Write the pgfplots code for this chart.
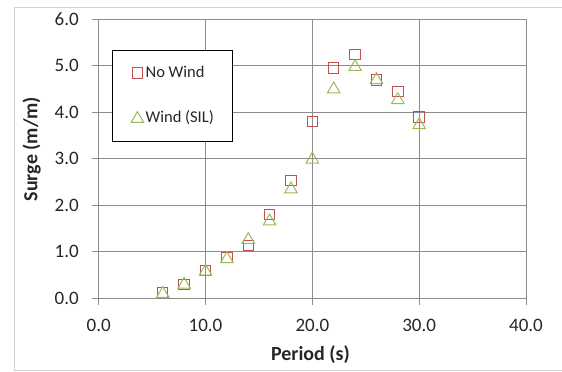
\documentclass[border=0pt]{standalone}
\usepackage{pgfplots}
\pgfplotsset{compat=1.18}
\usepackage{fontspec}
\setmainfont{Carlito}
\definecolor{gridgray}{RGB}{140,140,140}
\definecolor{framegray}{RGB}{210,210,210}
\definecolor{xlred}{RGB}{192,80,77}
\definecolor{xlgreen}{RGB}{155,187,89}
\definecolor{txt}{RGB}{38,38,38}
\begin{document}
\begin{tikzpicture}
\useasboundingbox (-98.7bp,-74bp) rectangle (463.3bp,298bp);
\draw[framegray, line width=1bp] (464bp,290.7bp) -- (-84.4bp,290.7bp) -- (-84.4bp,-72.7bp) -- (464bp,-72.7bp);
\begin{axis}[
  at={(0,0)}, anchor=south west,
  width=427.3bp, height=279bp, scale only axis,
  xmin=0, xmax=40, ymin=0, ymax=6,
  xtick={0,10,20,30,40}, ytick={0,1,2,3,4,5,6},
  grid=major,
  major grid style={gridgray, line width=1bp},
  axis line style={gridgray, line width=1bp},
  tick style={gridgray, line width=1bp},
  tick align=outside, major tick length=7bp,
  xtick pos=left, ytick pos=left,
  /pgf/number format/fixed,
  /pgf/number format/fixed zerofill,
  /pgf/number format/precision=1,
  /pgf/number format/assume math mode=true,
  ticklabel style={font=\fontsize{19bp}{22bp}\selectfont, text=txt, inner sep=0pt},
  xticklabel style={anchor=center, yshift=-20bp},
  yticklabel style={anchor=east, xshift=-12.7bp},
  every axis x label/.style={at={(axis description cs:0.4957,0)}, anchor=center, yshift=-56.7bp, font=\fontsize{20bp}{23bp}\selectfont\bfseries, text=txt},
  every axis y label/.style={at={(axis description cs:-0.157,0.534)}, rotate=90, anchor=center, font=\fontsize{20bp}{23bp}\selectfont\bfseries, text=txt},
  xlabel={Period (s)},
  ylabel={Surge (m/m)},
  legend style={at={(axis description cs:0.0318,0.888)}, anchor=north west,
    draw=black, line width=0.75bp, fill=white,
    inner xsep=18.5bp, inner ysep=15.4bp, row sep=31.6bp, column sep=2bp,
    font=\fontsize{16.5bp}{19bp}\selectfont, text=txt,
    nodes={inner sep=0pt, text height=11bp, text depth=3bp}},
  legend cell align=left,
  legend image code/.code={\draw[mark repeat=2,mark phase=2,#1] plot coordinates {(0bp,0bp) (5.2bp,0bp) (10.4bp,0bp)};},
]
\addplot[only marks, mark=square, mark size=5.2bp, xlred, line width=1bp] coordinates {
(6,0.12) (8,0.29) (10,0.59) (12,0.87) (14,1.13) (16,1.79) (18,2.53) (20,3.79) (22,4.95) (24,5.24) (26,4.69) (28,4.44) (30,3.89)};
\addlegendentry{No Wind}
\addplot[only marks, mark=triangle, mark size=7.2bp, xlgreen, line width=1bp] coordinates {
(6,0.09) (8,0.29) (10,0.57) (12,0.84) (14,1.25) (16,1.65) (18,2.34) (20,2.98) (22,4.49) (24,4.97) (26,4.69) (28,4.26) (30,3.72)};
\addlegendentry{Wind (SIL)}
\end{axis}
\end{tikzpicture}
\end{document}
